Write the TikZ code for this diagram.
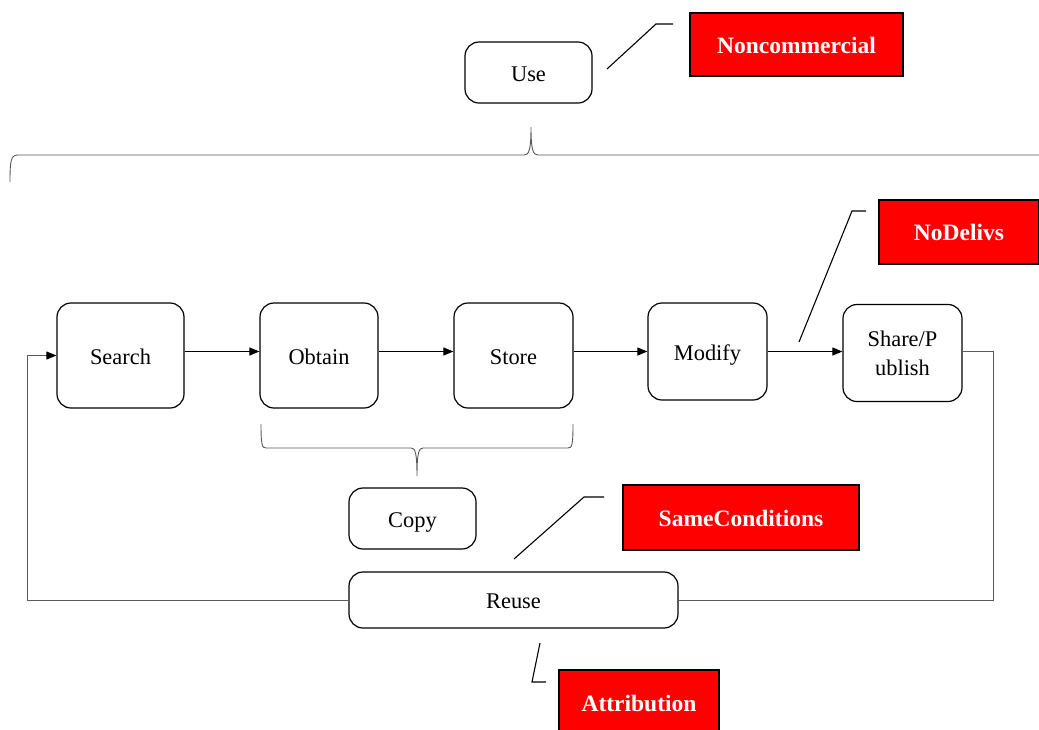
\documentclass[tikz,border=0pt]{standalone}
\usepackage{fontspec}
\setmainfont{Liberation Serif}
\usetikzlibrary{arrows.meta,positioning}

\begin{document}
\begin{tikzpicture}[x=1pt,y=-1pt,>={Triangle[length=10pt,width=8pt]},
		stage/.style={draw,line width=1.2pt,rounded corners=14pt,align=center,
			inner sep=0pt,font=\fontsize{22.4}{29}\selectfont},
		oneline/.style={text height=20pt,text depth=3pt},
		tag/.style={draw,line width=1.2pt,fill=red,text=white,inner sep=0pt,
			text height=20pt,text depth=3pt,
			font=\fontsize{23.5}{27}\selectfont\bfseries},
		flow/.style={->,line width=1pt},
		pointer/.style={line width=1.1pt},
		brace/.style={gray!70!black,line width=0.9pt},
		back/.style={gray!70!black,line width=0.9pt}]
	\useasboundingbox (0,0) rectangle (1039,729);
	% top of the chain
	\node[stage,oneline,minimum width=127,minimum height=61] (use) at (528.5,72.5) {Use};
	\node[tag,minimum width=213,minimum height=63] (noncomm) at (796.5,44.5) {Noncommercial};
	\draw[pointer] (607,69) -- (656,24) -- (673,24);
	\draw[brace] (10,182) .. controls (10,160) and (11,155) .. (18,155) -- (524,155)
		.. controls (529,155) and (531,150) .. (531,127)
		.. controls (531,150) and (533,155) .. (538,155) -- (1045,155);
	% the steps
	\node[stage,oneline,minimum width=127,minimum height=105] (search) at (120.5,355.5) {Search};
	\node[stage,oneline,minimum width=118,minimum height=105] (obtain) at (319,355.5) {Obtain};
	\node[stage,oneline,minimum width=119,minimum height=105] (store) at (513.5,355.5) {Store};
	\node[stage,oneline,minimum width=119,minimum height=97] (modify) at (707.5,351.5) {Modify};
	\node[stage,minimum width=119,minimum height=97] (share) at (902.5,353) {Share/P\\ublish};
	\draw[flow] (search.east |- modify.west) -- (obtain.west |- modify.west);
	\draw[flow] (obtain.east |- modify.west) -- (store.west |- modify.west);
	\draw[flow] (store.east |- modify.west) -- (modify.west);
	\draw[flow] (modify.east) -- (share.west |- modify.east);
	\node[tag,minimum width=160,minimum height=64] (nodelivs) at (959,232) {NoDelivs};
	\draw[pointer] (799,342) -- (852,211) -- (866,211);
	% copy
	\draw[brace] (261,424) .. controls (261,445) and (262,448) .. (266,448) -- (411,448)
		.. controls (415,448) and (417,452) .. (417,476)
		.. controls (417,452) and (419,448) .. (423,448) -- (568,448)
		.. controls (572,448) and (573,445) .. (573,424);
	\node[stage,oneline,minimum width=127,minimum height=61] (copy) at (412.5,518.5) {Copy};
	% reuse loop
	\node[stage,oneline,minimum width=329,minimum height=56] (reuse) at (513.5,600) {Reuse};
	\coordinate (backleft) at (27,600);
	\draw[back] (share.east |- modify.east) -- ++(31,0) |- (reuse.east);
	\draw[back,-{Triangle[length=10pt,width=8pt,color=black]}] (reuse.west) -- (backleft) |- (search.west);
	\node[tag,minimum width=236,minimum height=65] (same) at (741,517.5) {SameConditions};
	\draw[pointer] (514,559) -- (584,497) -- (604,497);
	\node[tag,minimum width=160,minimum height=66] (attrib) at (639,703) {Attribution};
	\draw[pointer] (540,643) -- (532,682) -- (546,682);
\end{tikzpicture}
\end{document}
